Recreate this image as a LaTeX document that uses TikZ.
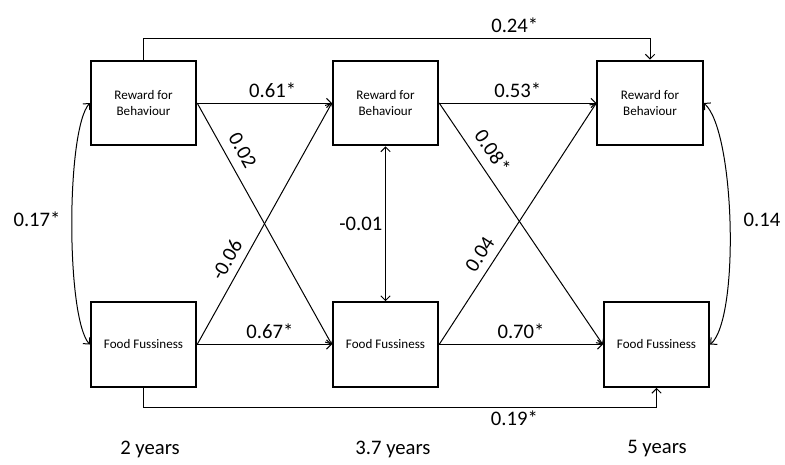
\documentclass[tikz,border=0pt]{standalone}
\usepackage{fontspec}
\setmainfont{Carlito}
\usetikzlibrary{arrows.meta}

\begin{document}
\begin{tikzpicture}[x=0.75pt,y=-0.75pt,
	box/.style={draw,line width=1.5pt,minimum width=79pt,minimum height=63.5pt,inner sep=0pt,align=center,font=\fontsize{9.8}{12}\selectfont},
	effect/.style={line width=0.75pt,-{Straight Barb[length=3.5pt,width=7pt]}},
	assoc/.style={line width=0.75pt,{Straight Barb[length=3.5pt,width=7pt]}-{Straight Barb[length=3.5pt,width=7pt]}},
	coef/.style={font=\fontsize{15.5}{18}\selectfont,inner sep=1pt}]
	
	\useasboundingbox (0,0) rectangle (785,464);
	
	\node[box] (rb1) at (143.5,103) {Reward for\\Behaviour};
	\node[box] (rb2) at (385.5,103) {Reward for\\Behaviour};
	\node[box] (rb3) at (650,103) {Reward for\\Behaviour};
	\node[box] (ff1) at (143.5,344.5) {Food Fussiness};
	\node[box] (ff2) at (385.5,344.5) {Food Fussiness};
	\node[box] (ff3) at (656.5,344.5) {Food Fussiness};
	
	\draw[effect] (rb1.east) -- node[coef,above=3pt,pos=0.56] {0.61*} (rb2.west);
	\draw[effect] (rb2.east) -- node[coef,above=3pt,pos=0.5] {0.53*} (rb3.west);
	\draw[effect] (ff1.east) -- node[coef,above=3pt,pos=0.54] {0.67*} (ff2.west);
	\draw[effect] (ff2.east) -- node[coef,above=3pt,pos=0.5] {0.70*} (ff3.west);
	
	\draw[effect] (rb1.east) -- node[coef,sloped,above=6pt,pos=0.23] {0.02} (ff2.west);
	\draw[effect] (ff1.east) -- node[coef,sloped,above=5pt,pos=0.32] {-0.06} (rb2.west);
	\draw[effect] (rb2.east) -- node[coef,sloped,above=6pt,pos=0.24] {0.08*} (ff3.west);
	\draw[effect] (ff2.east) -- node[coef,sloped,above=5pt,pos=0.34] {0.04} (rb3.west);
	
	\coordinate (tl) at ([shift={(0,-21)}]rb1.north);
	\coordinate (bl) at ([shift={(0,20)}]ff1.south);
	\draw[effect] (rb1.north) -- (tl) -- node[coef,above=3pt,pos=0.733] {0.24*} (tl -| rb3.north) -- (rb3.north);
	\draw[effect] (ff1.south) -- (bl) -- node[coef,below=1pt,pos=0.723] {0.19*} (bl -| ff3.south) -- (ff3.south);
	
	\draw[assoc] (ff2.north) -- node[coef,left=1pt] {-0.01} (rb2.south);
	\draw[assoc] (rb1.west) .. controls (66,130) and (66,318) .. (ff1.west);
	\draw[assoc] (rb3.east) .. controls (735,130) and (740,318) .. (ff3.east);
	
	\node[coef] (r1) at (37,219) {0.17*};
	\node[coef] (r3) at (762,220) {0.14};
	
	\node[coef] (y1) at (150,449) {2 years};
	\node[coef] (y2) at (393,449) {3.7 years};
	\node[coef] (y3) at (657,449) {5 years};
	
\end{tikzpicture}
\end{document}
